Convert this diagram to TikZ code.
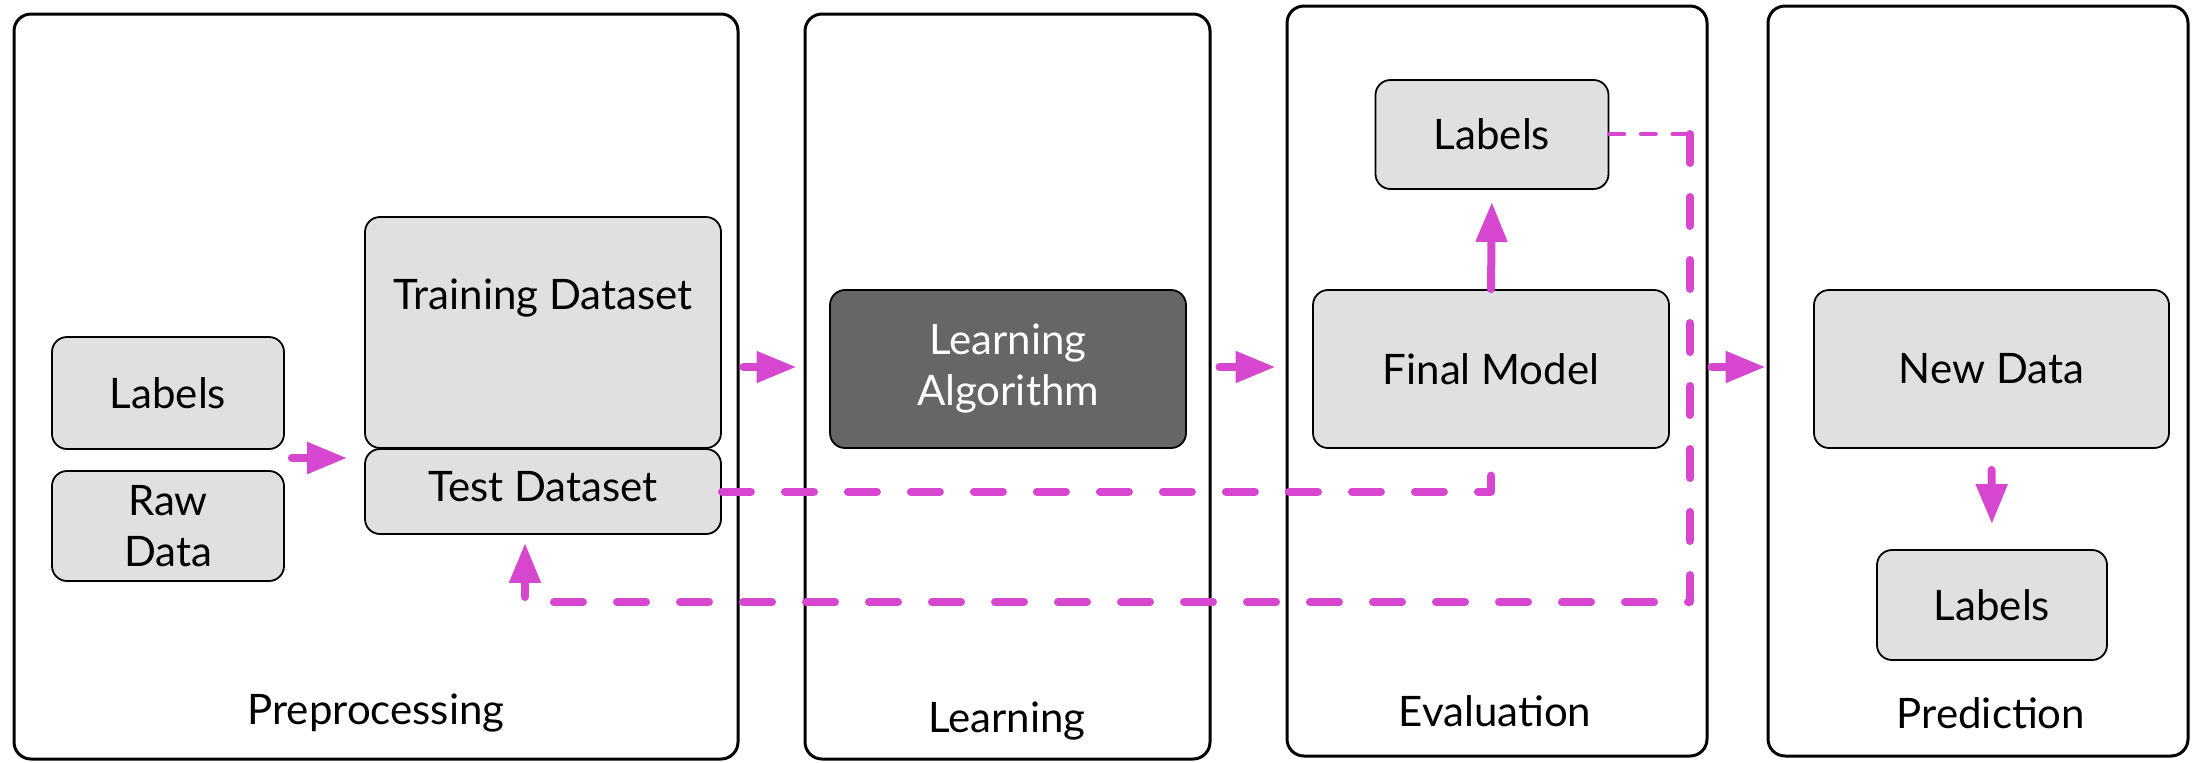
\documentclass[tikz,border=0pt]{standalone}
\usepackage{fontspec}
\setmainfont{Lato}
\usetikzlibrary{arrows.meta,calc}
\definecolor{mag}{RGB}{214,70,206}
\definecolor{boxgray}{RGB}{224,224,224}
\definecolor{darkbox}{RGB}{102,102,102}
\begin{document}
\begin{tikzpicture}[x=0.5pt,y=-0.5pt,
  font=\fontsize{21}{25.5}\selectfont,
  panel/.style={draw=black, line width=1.5pt, rounded corners=8.5pt, minimum width=#1, inner sep=0pt},
  box/.style={draw=black, line width=0.9pt, fill=boxgray, rounded corners=7.5pt, align=center, inner sep=0pt},
  darkboxst/.style={box, fill=darkbox, text=white},
  plain/.style={inner sep=0pt, align=center},
  arr/.style={draw=mag, line width=4pt, line cap=round, -{Triangle[length=20pt,width=15pt]}},
  dashthick/.style={draw=mag, line width=4pt, line cap=round, line join=round, dash pattern=on 14.5pt off 17pt},
  dashthin/.style={draw=mag, line width=2.2pt, line cap=round, line join=round, dash pattern=on 7.3pt off 8.5pt},
]
\useasboundingbox (0,0) rectangle (2195,762);

% panels
\node[panel=362pt, minimum height=372.5pt] (p1) at (376,386.5) {};
\node[panel=202.5pt, minimum height=372.5pt] (p2) at (1007.5,386.5) {};
\node[panel=210pt, minimum height=375pt] (p3) at (1497,381) {};
\node[panel=210pt, minimum height=375pt] (p4) at (1978,381) {};

\node[plain] (t1) at (376,713) {Preprocessing};
\node[plain] (t2) at (1007,721) {Learning};
\node[plain] (t3) at (1495,711) {Evaluation};
\node[plain] (t4) at (1991,713) {Prediction};

% preprocessing
\node[box, minimum width=116pt, minimum height=56pt] (labA) at (168,393) {Labels};
\node[box, minimum width=116pt, minimum height=55pt] (raw) at (168,526) {Raw\\Data};
\node[box, minimum width=178pt, minimum height=115.5pt] (train) at (543,332.5) {};
\node[plain] (traintext) at (543,298) {Training Dataset};
\node[box, minimum width=178pt, minimum height=42.5pt] (test) at (543,491.5) {};
\node[plain] (testtext) at (543,487) {Test Dataset};

% learning
\node[darkboxst, minimum width=178pt, minimum height=79pt] (alg) at (1008,369) {Learning\\Algorithm};

% evaluation
\node[box, minimum width=116.5pt, minimum height=54.5pt] (labE) at (1492,134.5) {Labels};
\node[box, minimum width=178pt, minimum height=79pt] (final) at (1491,369) {Final Model};

% prediction
\node[box, minimum width=177.5pt, minimum height=79pt] (new) at (1991.5,369) {New Data};
\node[box, minimum width=115pt, minimum height=55pt] (labP) at (1992,605) {Labels};

% solid arrows
\coordinate (lr) at (labA.east |- 0,458);
\draw[arr, shorten <=3.5pt, shorten >=8.5pt] (lr) -- (lr -| test.west);
\draw[arr, shorten <=2pt, shorten >=3.5pt] (p1.east |- 0,367) -- (p2.west |- 0,367);
\draw[arr, shorten <=4pt, shorten >=5pt] (p2.east |- 0,367) -- (p3.west |- 0,367);
\draw[arr, shorten <=1.5pt, shorten >=0.5pt] (p3.east |- 0,367) -- (p4.west |- 0,367);
\draw[arr, shorten >=6pt] (final.north) -- (labE.south);
\draw[arr, shorten <=10.5pt, shorten >=12.5pt] (new.south) -- (labP.north);

% dashed connectors
\draw[dashthick] (test.east) -- (test.east -| final.south) -- (final.south);
\coordinate (cr) at (1690,134);
\coordinate (cb) at (1690,602);
\draw[dashthin] (labE.east |- cr) -- (cr);
\draw[dashthick, -{Triangle[length=20pt,width=15pt]}, shorten >=4pt] (cr) -- (cb) -| ([xshift=-9pt]test.south);
\end{tikzpicture}
\end{document}
